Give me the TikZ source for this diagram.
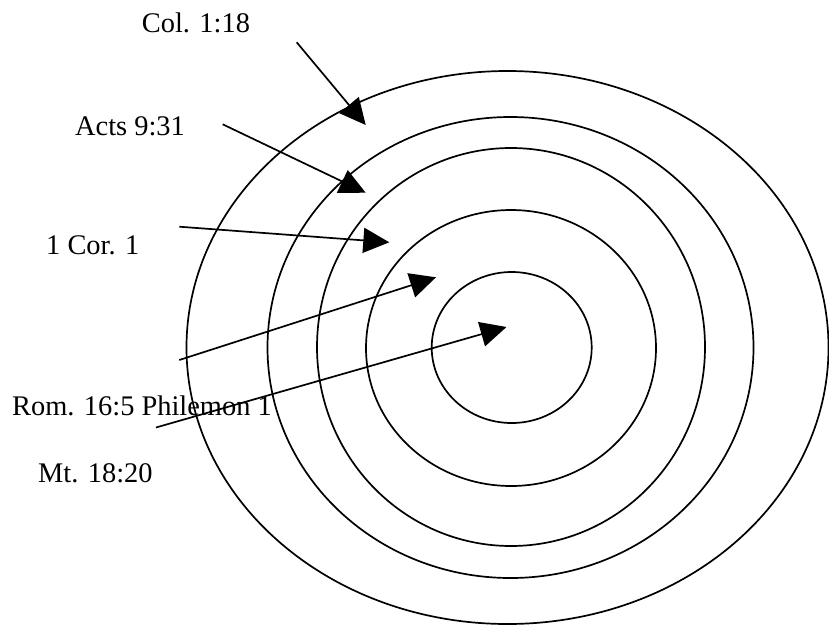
\documentclass[tikz,border=0pt]{standalone}
\usepackage{fontspec}
\setmainfont{Liberation Serif}
\usetikzlibrary{arrows.meta}
\begin{document}
\begin{tikzpicture}[x=1pt,y=-1pt,
  ring/.style={line width=1.7pt},
  ptr/.style={line width=1.7pt,-{Triangle[length=26pt,width=25pt]}},
  lbl/.style={anchor=base west,inner sep=0pt,font=\fontsize{28.4}{34}\selectfont}]
\useasboundingbox (0,0) rectangle (829,627);
\clip (0,0) rectangle (829,627);
% rings
\draw[ring] (507.5,347.5) ellipse [x radius=321, y radius=276.5];
\draw[ring] (510.5,347.5) ellipse [x radius=243, y radius=230.5];
\draw[ring] (511,347) ellipse [x radius=194, y radius=199];
\draw[ring] (511,348) ellipse [x radius=145, y radius=138];
\draw[ring] (511.7,347.5) ellipse [x radius=80, y radius=75.5];
% labels
\node[lbl] (col)  at (141.7,32.3) {Col. 1:18};
\node[lbl] (acts) at (75,135) {Acts 9:31};
\node[lbl] (cor)  at (46,254) {1 Cor. 1};
\node[lbl] (rom)  at (12,415.7) {Rom. 16:5 Philemon 1};
\node[lbl] (mt)   at (38,482) {Mt. 18:20};
% arrow end points
\coordinate (s1) at (296.7,42.3);  \coordinate (t1) at (365.7,125);
\coordinate (s2) at (222.7,124.3); \coordinate (t2) at (365.7,192.7);
\coordinate (s3) at (179.3,226.7); \coordinate (t3) at (389.3,242.3);
\coordinate (s4) at (179.3,360);   \coordinate (t4) at (436,277.3);
\coordinate (s5) at (156,427.5);   \coordinate (t5) at (506.5,327);
\draw[ptr] (s1) -- (t1);
\draw[ptr] (s2) -- (t2);
\draw[ptr] (s3) -- (t3);
\draw[ptr] (s4) -- (t4);
\draw[ptr] (s5) -- (t5);
\end{tikzpicture}
\end{document}
